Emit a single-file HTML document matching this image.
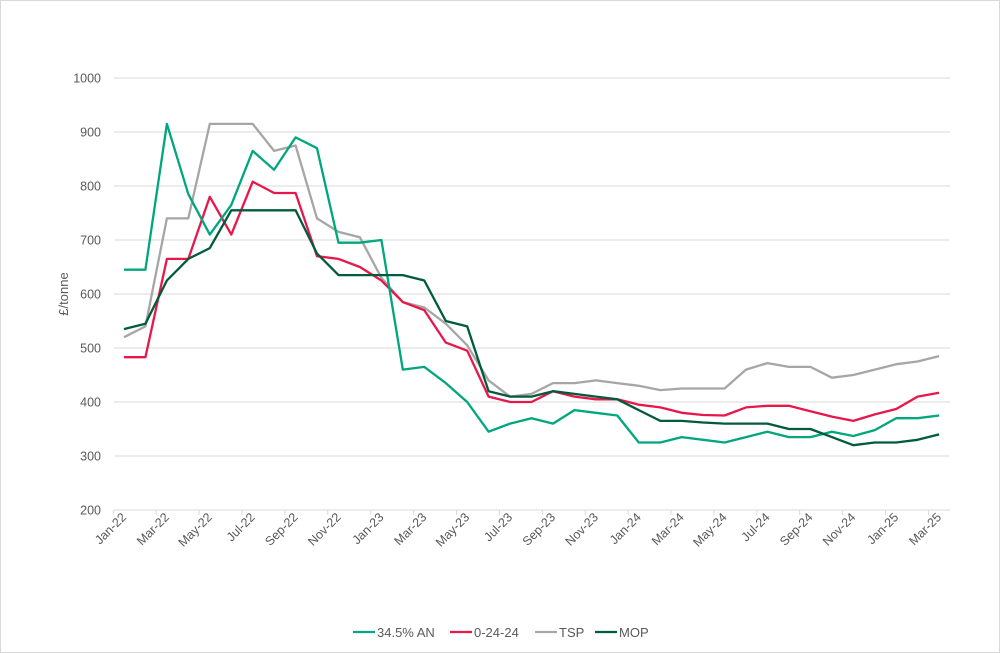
<!DOCTYPE html>
<html><head><meta charset="utf-8"><style>
html,body{margin:0;padding:0;background:#fff}
svg{display:block;font-family:"Liberation Sans",sans-serif}
</style></head><body>
<svg id="s" width="1000" height="653" viewBox="0 0 1000 653" xmlns="http://www.w3.org/2000/svg">
<rect x="0.5" y="0.5" width="999" height="652" fill="#fff" stroke="#d9d9d9"/>
<g id="grid"></g>
<g id="lines"></g>
<text transform="translate(68,294) rotate(-90)" text-anchor="middle" font-size="13" fill="#595959">£/tonne</text>
<g font-size="13" fill="#595959">
<line x1="353" y1="632" x2="375" y2="632" stroke="#00a67e" stroke-width="2.2"/><text x="377" y="637">34.5% AN</text>
<line x1="450" y1="632" x2="472" y2="632" stroke="#e8174b" stroke-width="2.2"/><text x="474" y="637">0-24-24</text>
<line x1="535" y1="632" x2="557" y2="632" stroke="#a6a6a6" stroke-width="2.2"/><text x="559" y="637">TSP</text>
<line x1="595" y1="632" x2="617" y2="632" stroke="#005a3c" stroke-width="2.2"/><text x="619" y="637">MOP</text>
</g>
</svg>
<script>
var NS="http://www.w3.org/2000/svg";
function el(t,a,p,txt){var e=document.createElementNS(NS,t);for(var k in a)e.setAttribute(k,a[k]);if(txt)e.textContent=txt;p.appendChild(e);return e;}
var g=document.getElementById('grid'),L=document.getElementById('lines');
function Y(v){return 510-(v-200)*0.54;}
function X(i){return 124+21.45*i;}
for(var v=200;v<=1000;v+=100){el('line',{x1:114,x2:950,y1:Y(v),y2:Y(v),stroke:'#d9d9d9','stroke-width':1},g);
el('text',{x:101,y:Y(v)+4.5,'text-anchor':'end','font-size':12.5,fill:'#595959'},g,String(v));}
var mon=['Jan','Feb','Mar','Apr','May','Jun','Jul','Aug','Sep','Oct','Nov','Dec'];
for(var i=0;i<=39;i+=2){var tx=113.3+21.45*i;el('line',{x1:tx,x2:tx,y1:510,y2:515,stroke:'#d9d9d9'},g);}
for(var i=0;i<39;i+=2){var yr=22+Math.floor(i/12),m=mon[i%12];var x=X(i)+3,y=518;
el('text',{x:x,y:y,'text-anchor':'end','font-size':12.5,fill:'#595959',transform:'rotate(-45 '+x+' '+y+')'},g,m+'-'+yr);}
var D={
'#a6a6a6':[520,540,740,740,915,915,915,865,875,740,715,705,630,585,575,545,505,440,410,415,435,435,440,435,430,422,425,425,425,460,472,465,465,445,450,460,470,475,485],
'#e8174b':[483,483,665,665,780,710,808,787,787,670,665,650,625,585,570,510,495,410,400,400,420,410,405,405,395,390,380,376,375,390,393,393,383,373,365,377,387,410,417],
'#00a67e':[645,645,915,785,710,765,865,830,890,870,695,695,700,460,465,435,400,345,360,370,360,385,380,375,325,325,335,330,325,335,345,335,335,345,337,348,370,370,375],
'#005a3c':[535,545,625,665,685,755,755,755,755,675,635,635,635,635,625,550,540,420,410,410,420,415,410,405,385,365,365,362,360,360,360,350,350,335,320,325,325,330,340]};
for(var c in D){var p=D[c].map(function(v,i){return X(i).toFixed(1)+','+Y(v).toFixed(1);}).join(' ');
el('polyline',{points:p,fill:'none',stroke:c,'stroke-width':2.3,'stroke-linejoin':'round'},L);}
</script>
</body></html>
